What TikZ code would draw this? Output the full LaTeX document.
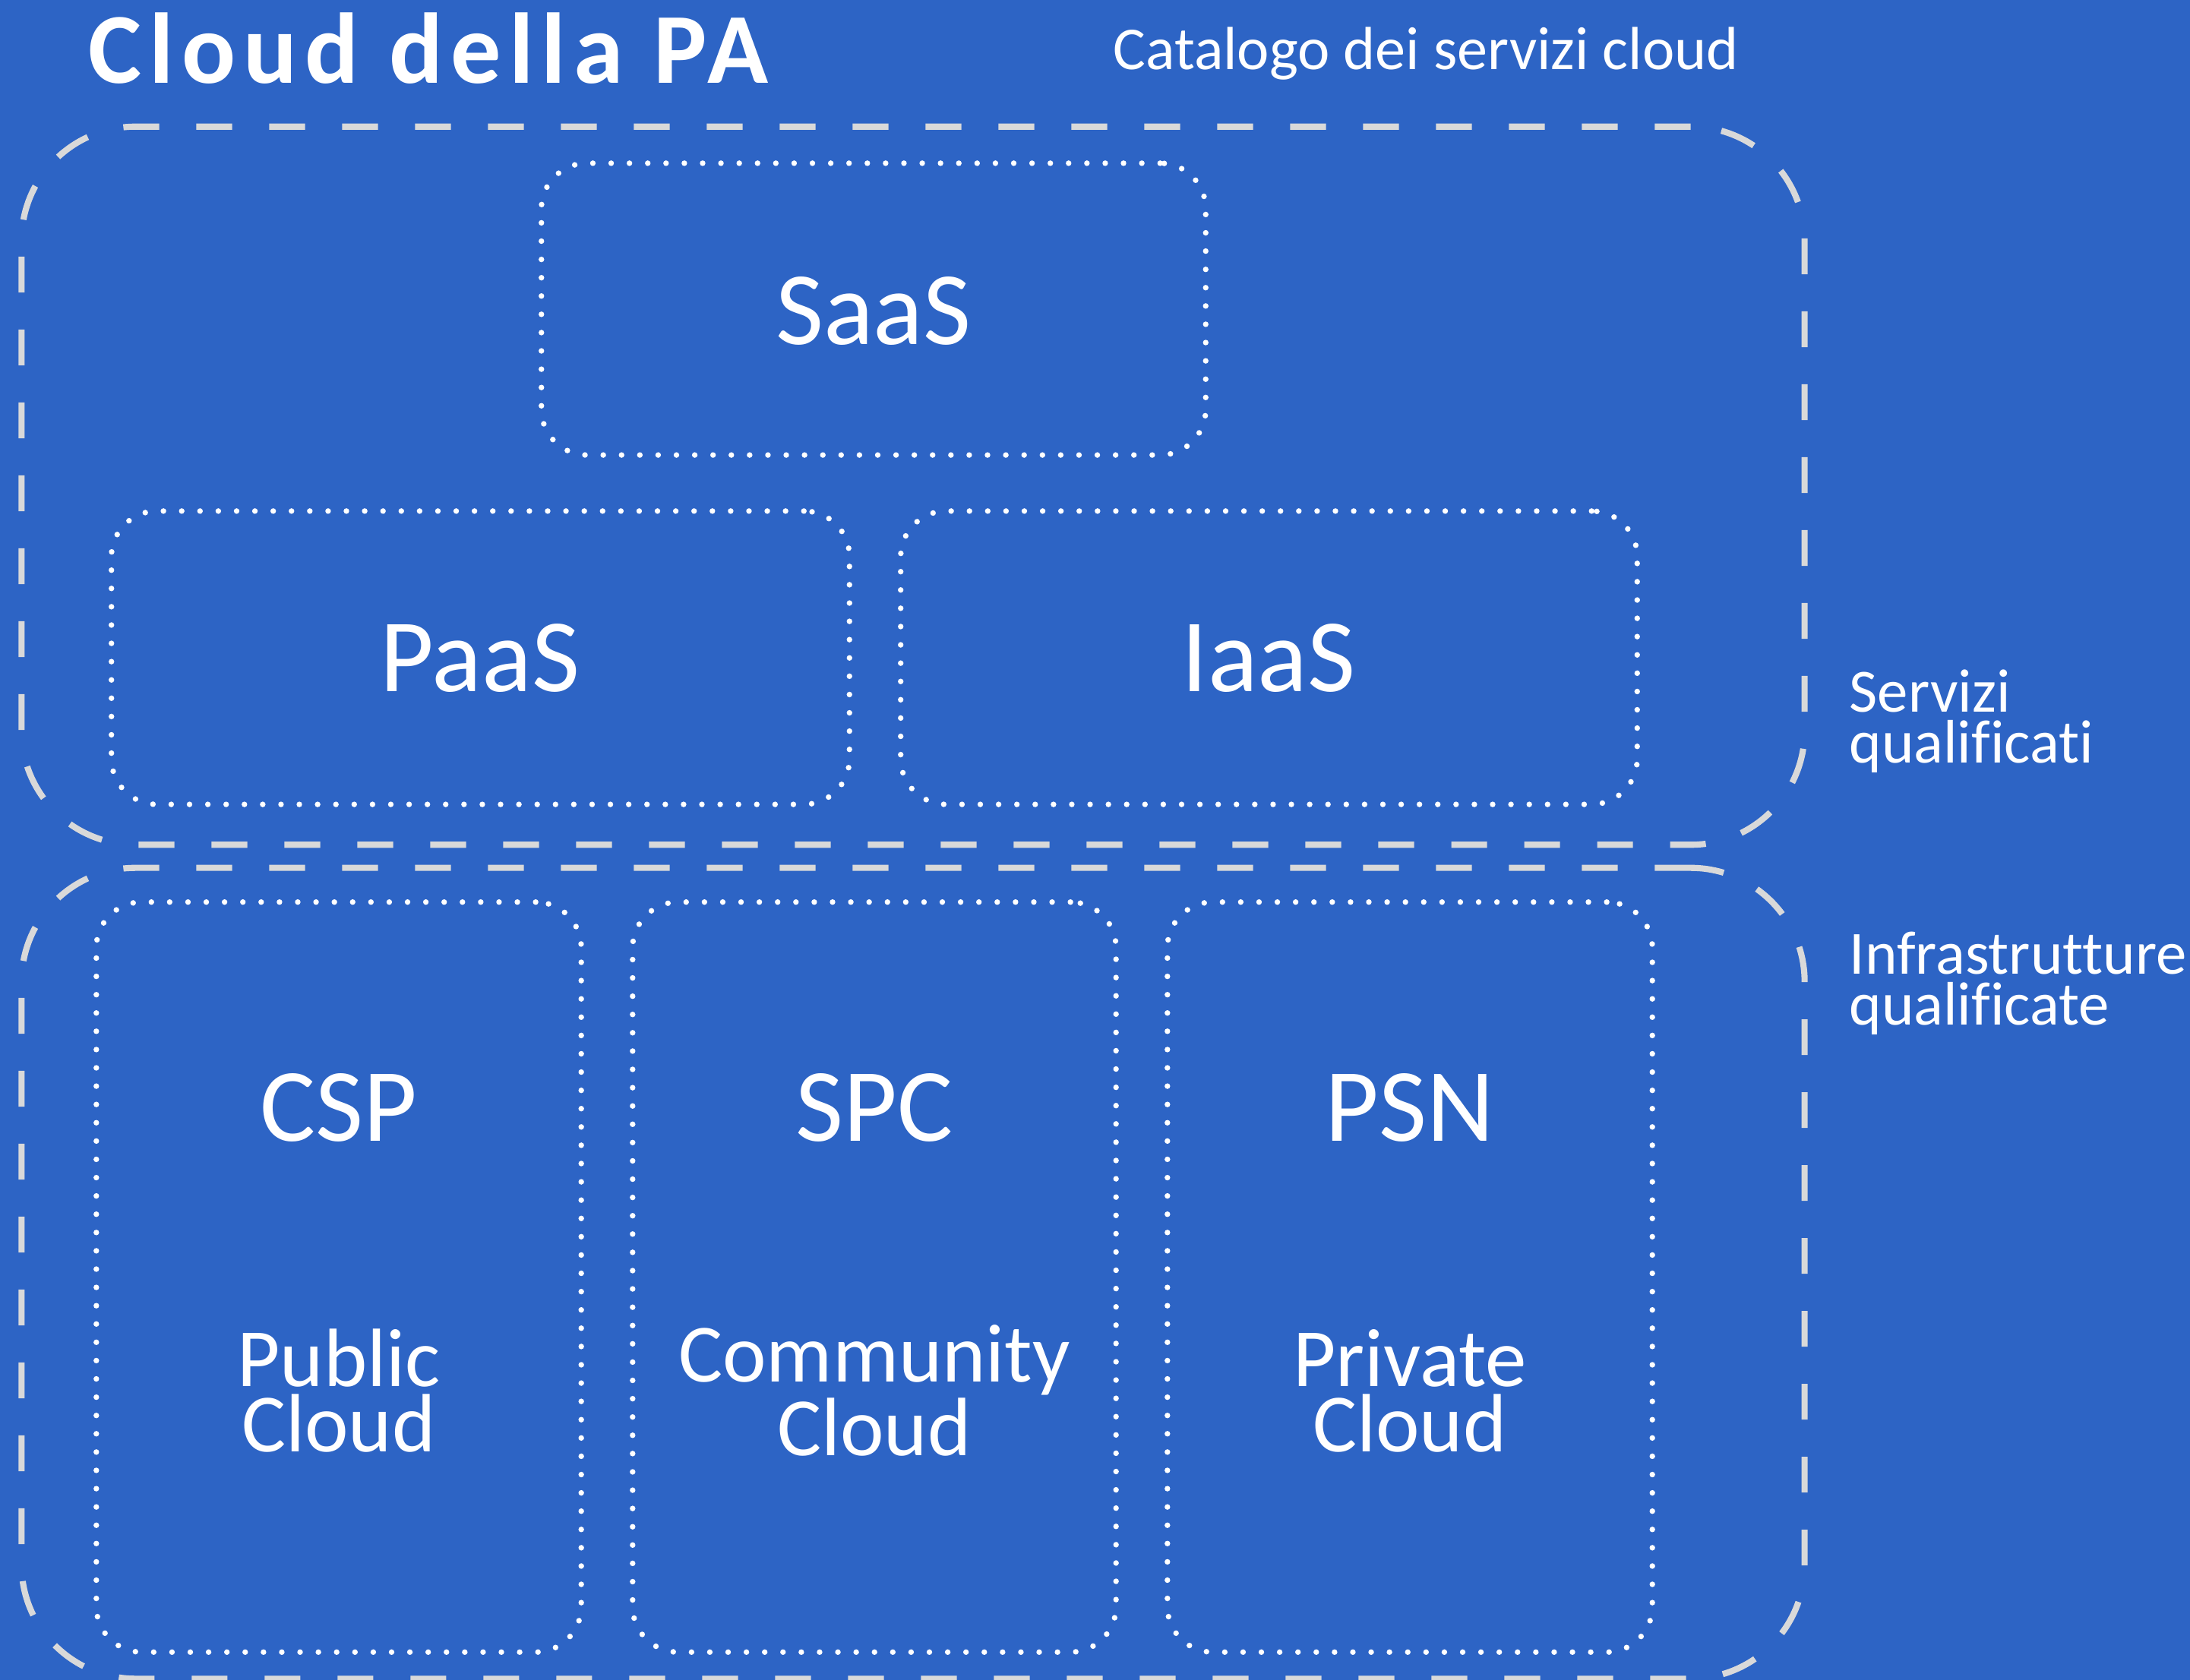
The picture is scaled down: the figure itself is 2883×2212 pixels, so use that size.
\documentclass[tikz,border=0pt]{standalone}
\usepackage{fontspec}
\setmainfont{Carlito}[Ligatures=NoCommon]
\definecolor{bg}{HTML}{2D64C5}
\definecolor{dashc}{HTML}{D9D9D9}
\tikzset{
  outerbox/.style={draw=dashc, line width=2.3pt, dash pattern=on 13.4pt off 13.9pt, rounded corners=1.5cm, inner sep=0pt},
  innerbox/.style={draw=white, line width=2.1pt, line cap=round, dash pattern=on 0pt off 6.85pt, rounded corners=0.6cm, inner sep=0pt},
  bigtext/.style={text=white, font=\fontsize{39}{47}\selectfont, inner sep=0pt},
  subtext/.style={text=white, font=\fontsize{31}{24.5}\selectfont, align=center, inner sep=0pt},
  sidetext/.style={text=white, font=\fontsize{23}{19}\selectfont, align=left, inner sep=0pt, anchor=west},
}
\begin{document}
\begin{tikzpicture}[x=0.01cm,y=-0.01cm]
\fill[bg] (0,0) rectangle (2883,2212);
\useasboundingbox (0,0) rectangle (2883,2212);

% title and caption
\node[text=white, font=\fontsize{37.6}{45}\selectfont\bfseries\addfontfeatures{LetterSpace=7.6}, anchor=base west, inner sep=0pt] (title) at (116,110) {Cloud della PA};
\node[text=white, font=\fontsize{22.8}{27}\selectfont, anchor=base west, inner sep=0pt] (catalog) at (1465,92) {Catalogo dei servizi cloud};

% outer dashed groups
\node[outerbox, minimum width=23.46cm, minimum height=9.45cm] (servizi) at (1202,639.5) {};
\node[outerbox, minimum width=23.46cm, minimum height=10.67cm] (infra) at (1202,1676.5) {};

% services
\node[innerbox, minimum width=8.74cm, minimum height=3.84cm] (saasbox) at (1150,407) {};
\node[innerbox, minimum width=9.71cm, minimum height=3.86cm] (paasbox) at (632.5,866) {};
\node[innerbox, minimum width=9.69cm, minimum height=3.86cm] (iaasbox) at (1670.5,866) {};
\node[bigtext, anchor=base] (saas) at (1150,454) {SaaS};
\node[bigtext, anchor=base] (paas) at (632,910) {PaaS};
\node[bigtext, anchor=base] (iaas) at (1670,910) {IaaS};

% infrastructures
\node[innerbox, minimum width=6.38cm, minimum height=9.87cm] (cspbox) at (446,1681.5) {};
\node[innerbox, minimum width=6.36cm, minimum height=9.87cm] (spcbox) at (1151,1681.5) {};
\node[innerbox, minimum width=6.38cm, minimum height=9.87cm] (psnbox) at (1856,1681.5) {};
\node[bigtext, anchor=base] (csp) at (446,1502) {CSP};
\node[bigtext, anchor=base] (spc) at (1151,1502) {SPC};
\node[bigtext, anchor=base] (psn) at (1856,1502) {PSN};
\node[subtext] (public) at (446,1831) {Public\\Cloud};
\node[subtext] (community) at (1151,1831) {Community\\Cloud};
\node[subtext] (private) at (1856,1831) {Private\\Cloud};

% side labels
\node[sidetext] (lblserv) at (2434,950) {Servizi\\qualificati};
\node[sidetext] (lblinfra) at (2434,1295) {Infrastrutture\\qualificate};
\end{tikzpicture}
\end{document}
